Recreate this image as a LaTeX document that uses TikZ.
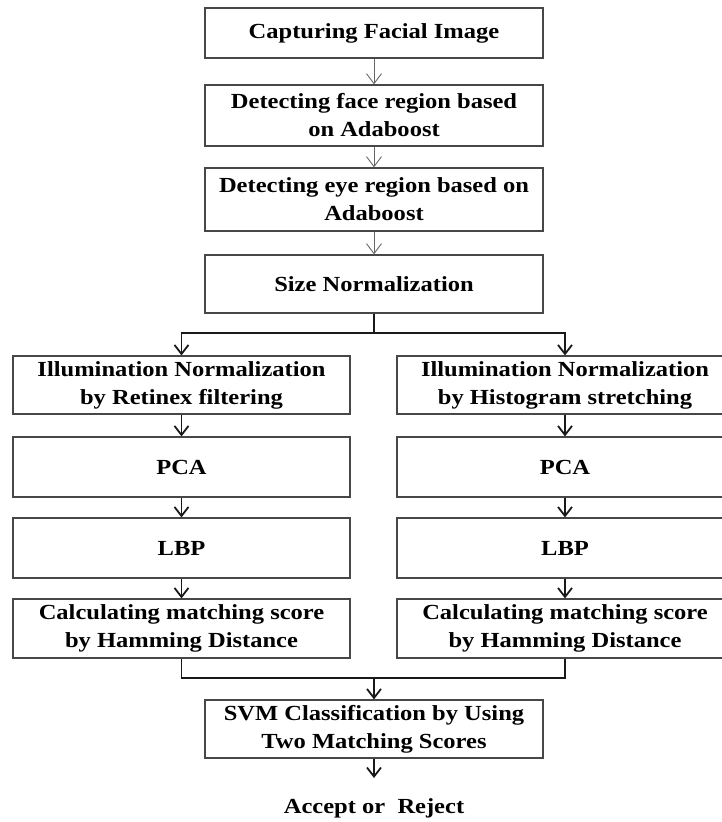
\documentclass[tikz,border=0pt]{standalone}
\usepackage{fontspec}
\setmainfont{Liberation Serif}[FakeStretch=1.14]
\usetikzlibrary{arrows.meta}
\begin{document}
\begin{tikzpicture}[x=1pt,y=-1pt,
  box/.style={draw=black!72,line width=1.2pt,fill=white,inner sep=0pt,
    align=center,font=\fontsize{21.5}{28}\selectfont\bfseries},
  thinarr/.style={draw=black!60,line width=0.9pt,-{Straight Barb[length=10pt,width=15pt,line width=0.9pt]}},
  thickarr/.style={draw=black!90,line width=1.8pt,-{Straight Barb[length=9pt,width=14pt,line width=1.8pt]}},
  thickline/.style={draw=black!90,line width=1.8pt}]
\useasboundingbox (0,0) rectangle (721,822);
\node[box,minimum width=338pt,minimum height=50pt] (b1) at (374,33) {Capturing Facial Image};
\node[box,minimum width=338pt,minimum height=61pt] (b2) at (374,115.5) {Detecting face region based\\on Adaboost};
\node[box,minimum width=338pt,minimum height=63pt] (b3) at (374,199.5) {Detecting eye region based on\\Adaboost};
\node[box,minimum width=338pt,minimum height=58pt] (b4) at (374,284) {Size Normalization};
\node[box,minimum width=337pt,minimum height=58pt] (l1) at (181.5,385) {Illumination Normalization\\by Retinex filtering};
\node[box,minimum width=337pt,minimum height=60pt] (l2) at (181.5,467) {PCA};
\node[box,minimum width=337pt,minimum height=60pt] (l3) at (181.5,548) {LBP};
\node[box,minimum width=337pt,minimum height=59pt] (l4) at (181.5,628.5) {Calculating matching score\\by Hamming Distance};
\node[box,minimum width=336pt,minimum height=58pt] (r1) at (565,385) {Illumination Normalization\\by Histogram stretching};
\node[box,minimum width=336pt,minimum height=60pt] (r2) at (565,467) {PCA};
\node[box,minimum width=336pt,minimum height=60pt] (r3) at (565,548) {LBP};
\node[box,minimum width=336pt,minimum height=59pt] (r4) at (565,628.5) {Calculating matching score\\by Hamming Distance};
\node[box,minimum width=338pt,minimum height=58pt] (svm) at (374,729) {SVM Classification by Using\\Two Matching Scores};
\node[font=\fontsize{21.5}{28}\selectfont\bfseries,inner sep=0pt] (acc) at (374,808) {Accept or\ \ Reject};
\coordinate (split) at (374,333);
\coordinate (merge) at (374,678);
\coordinate (accend) at (374,778);
\draw[thinarr] (b1) -- (b2);
\draw[thinarr] (b2) -- (b3);
\draw[thinarr] (b3) -- (b4);
\draw[thickline] (b4.south) -- (split);
\draw[thickarr] (split) -| (l1.north);
\draw[thickarr] (split) -| (r1.north);
\draw[thickarr] (l1) -- (l2);
\draw[thickarr] (l2) -- (l3);
\draw[thickarr] (l3) -- (l4);
\draw[thickarr] (r1) -- (r2);
\draw[thickarr] (r2) -- (r3);
\draw[thickarr] (r3) -- (r4);
\draw[thickline] (l4.south) |- (merge);
\draw[thickline] (r4.south) |- (merge);
\draw[thickarr] (merge) -- (svm.north);
\draw[thickarr] (svm.south) -- (accend);
\end{tikzpicture}
\end{document}
